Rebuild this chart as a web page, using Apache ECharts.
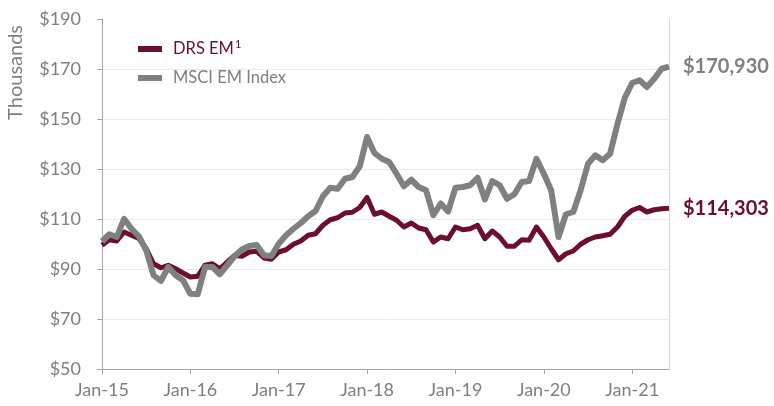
<!DOCTYPE html>
<html>
<head>
<meta charset="utf-8">
<script src="https://cdn.jsdelivr.net/npm/echarts@6/dist/echarts.min.js"></script>
<style>
html,body{margin:0;padding:0;background:#fff;}
#chart{width:774px;height:406px;}
</style>
</head>
<body>
<div id="chart"></div>
<script>
var monthNames = ['Jan','Feb','Mar','Apr','May','Jun','Jul','Aug','Sep','Oct','Nov','Dec'];
var years = ['15','16','17','18','19','20','21'];
var categories = [];
years.forEach(function (y) {
  monthNames.forEach(function (m) {
    if (categories.length < 78) categories.push(m + '-' + y);
  });
});

var drsEM = [
  99.5, 101.7, 101.2, 104.8, 103.5, 102.2, 98.2, 92.1, 90.5, 91.5, 90.1, 88.4,
  86.8, 87.1, 91.5, 92.1, 90.1, 92.8, 95.5, 95.1, 96.8, 97.1, 94.4, 93.9,
  96.8, 97.7, 99.9, 101.2, 103.5, 104.1, 107.5, 109.7, 110.5, 112.4, 112.7, 114.6,
  118.6, 111.9, 112.8, 111.1, 109.5, 106.8, 108.4, 106.4, 105.7, 100.8, 102.8, 102.1,
  106.8, 105.7, 106.1, 107.5, 102.1, 105.2, 102.8, 99.1, 99.1, 101.7, 101.5, 106.8,
  102.8, 98.1, 93.7, 96.1, 97.2, 99.9, 101.7, 102.8, 103.3, 103.9, 106.8, 111.1,
  113.5, 114.6, 112.8, 113.7, 114.1, 114.303
];

var msciEM = [
  101.0, 103.9, 102.8, 110.1, 106.1, 103.1, 97.5, 87.5, 85.2, 90.8, 87.5, 85.5,
  80.1, 79.9, 90.8, 90.8, 87.9, 91.5, 95.1, 97.8, 99.2, 99.6, 95.5, 95.2,
  100.1, 103.5, 106.1, 108.4, 111.1, 113.2, 119.1, 122.5, 122.1, 126.1, 126.8, 131.1,
  142.8, 136.4, 134.1, 132.8, 128.1, 123.1, 125.7, 122.8, 121.5, 111.5, 116.2, 113.0,
  122.5, 122.8, 123.5, 126.5, 117.8, 125.2, 123.5, 118.1, 119.9, 124.8, 125.2, 134.1,
  128.1, 121.5, 102.8, 111.9, 112.8, 121.5, 132.1, 135.5, 133.5, 136.1, 148.0, 158.5,
  164.4, 165.5, 162.8, 166.1, 170.1, 170.93
];

var seriesNames = ['DRS EM1', 'MSCI EM Index'];
var legendTexts = ['{a|DRS EM}{s|1}', '{b|MSCI EM Index}'];
var endLabels = ['$114,303', '$170,930'];
var yTicks = [50, 70, 90, 110, 130, 150, 170, 190];

var maroon = '#6b0f2c';
var gray = '#808080';
var textGray = '#7f7f7f';
var fontFam = 'Lato, "Open Sans", sans-serif';

var chart = echarts.init(document.getElementById('chart'), null, {renderer: 'canvas'});
chart.setOption({
  animation: false,
  backgroundColor: '#ffffff',
  grid: {left: 102, right: 105, top: 19, bottom: 37, containLabel: false},
  legend: {
    orient: 'vertical',
    left: 133,
    top: 34,
    itemWidth: 24,
    itemHeight: 6,
    itemGap: 12,
    icon: 'rect',
    selectedMode: false,
    formatter: function (name) { return legendTexts[seriesNames.indexOf(name)]; },
    textStyle: {
      fontFamily: fontFam, fontSize: 16.5, padding: [0, 0, 0, 6],
      rich: {
        a: {color: maroon, fontFamily: fontFam, fontSize: 16.5, lineHeight: 20},
        s: {color: maroon, fontFamily: fontFam, fontSize: 11, lineHeight: 20, verticalAlign: 'top', padding: [0, 0, 0, 1]},
        b: {color: textGray, fontFamily: fontFam, fontSize: 16.5, lineHeight: 20}
      }
    },
    data: [
      {name: seriesNames[0]},
      {name: seriesNames[1]}
    ]
  },
  graphic: [{
    type: 'text',
    left: 6,
    top: 25,
    rotation: Math.PI / 2,
    style: {text: 'Thousands', fill: textGray, font: '20px ' + fontFam}
  }],
  xAxis: {
    type: 'category',
    data: categories,
    boundaryGap: false,
    axisLine: {show: true, lineStyle: {color: '#a6a6a6', width: 1}},
    axisTick: {show: true, length: 5, lineStyle: {color: '#a6a6a6'},
      interval: function (i) { return i % 12 === 0; }},
    axisLabel: {
      interval: function (i) { return i % 12 === 0; },
      color: textGray, fontFamily: fontFam, fontSize: 18, margin: 12
    },
    splitLine: {show: false}
  },
  yAxis: [{
    type: 'value',
    min: 50, max: 190, interval: 20,
    axisLine: {show: true, lineStyle: {color: '#a6a6a6', width: 1}},
    axisTick: {show: true, length: 5, lineStyle: {color: '#a6a6a6'}},
    axisLabel: {
      color: textGray, fontFamily: fontFam, fontSize: 18, margin: 21,
      formatter: function (v) { return yTicks.indexOf(v) >= 0 ? '$' + v : ''; }
    },
    splitLine: {show: true, showMaxLine: false, showMinLine: false, lineStyle: {color: '#ebebeb', width: 1}}
  }, {
    type: 'value',
    position: 'right',
    min: 50, max: 190, interval: 20,
    axisLine: {show: true, lineStyle: {color: '#d9d9d9', width: 1}},
    axisTick: {show: false},
    axisLabel: {show: false},
    splitLine: {show: false}
  }],
  series: [{
    name: seriesNames[0],
    type: 'line',
    data: drsEM,
    showSymbol: false,
    symbol: 'none',
    lineStyle: {color: maroon, width: 5, join: 'round'},
    itemStyle: {color: maroon},
    endLabel: {
      show: true, distance: 14,
      formatter: function () { return endLabels[0]; },
      color: maroon, fontFamily: fontFam, fontSize: 20, fontWeight: 'bold'
    },
    z: 2
  }, {
    name: seriesNames[1],
    type: 'line',
    data: msciEM,
    showSymbol: false,
    symbol: 'none',
    lineStyle: {color: gray, width: 6, join: 'round'},
    itemStyle: {color: gray},
    endLabel: {
      show: true, distance: 14,
      formatter: function () { return endLabels[1]; },
      color: gray, fontFamily: fontFam, fontSize: 20, fontWeight: 'bold'
    },
    z: 3
  }]
});
</script>
</body>
</html>
